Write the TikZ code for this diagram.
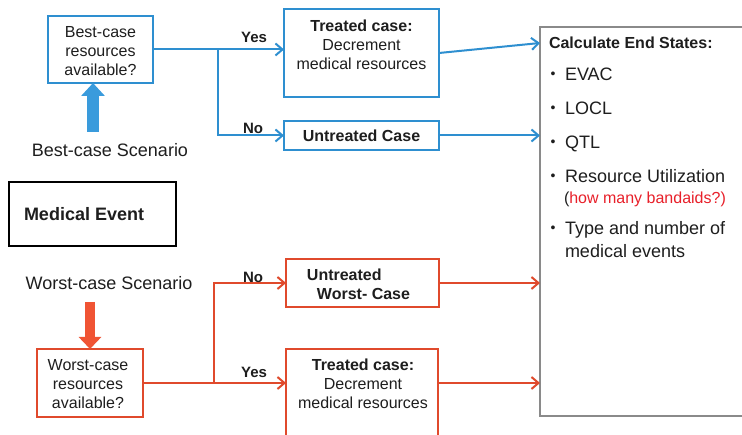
\documentclass[tikz,border=0pt]{standalone}
\usepackage{fontspec}
\setmainfont{Liberation Sans}
\usetikzlibrary{arrows.meta}
\definecolor{bl}{HTML}{2E8FD0}
\definecolor{blf}{HTML}{3A9BDC}
\definecolor{rd}{HTML}{E04A2C}
\definecolor{rdf}{HTML}{F05434}
\definecolor{gr}{HTML}{8A8A8A}
\definecolor{tx}{HTML}{1E1E1E}
\definecolor{redtx}{HTML}{E8202A}
\begin{document}
\begin{tikzpicture}[x=1pt,y=-1pt,
  every node/.style={font=\fontsize{16}{19}\selectfont, text=tx, inner sep=0pt, outer sep=0pt},
  bbox/.style={draw=bl, line width=2.2pt},
  rbox/.style={draw=rd, line width=2.2pt},
  bline/.style={draw=bl, line width=2pt},
  rline/.style={draw=rd, line width=2pt},
  bcon/.style={bline, -{Straight Barb[length=7pt,width=12pt]}},
  rcon/.style={rline, -{Straight Barb[length=7pt,width=12pt]}},
  big/.style={font=\fontsize{18}{21}\selectfont},
  lbl/.style={font=\bfseries\fontsize{15}{18}\selectfont},
  bul/.style={font=\fontsize{14}{16}\selectfont}
]
\useasboundingbox (0,0) rectangle (742,435);
\fill[white] (0,0) rectangle (742,435);

% ---- end states box
\node[draw=gr, line width=1.6pt, minimum width=220pt, minimum height=389pt, anchor=north west] (endbox) at (540,27) {};
\node[font=\bfseries\fontsize{16}{19}\selectfont, anchor=base west] (calc) at (549,49) {Calculate End States:};
\node[bul] (b1) at (553,75) {•};
\node[big, anchor=base west] (evac) at (565,80.5) {EVAC};
\node[bul] (b2) at (553,109) {•};
\node[big, anchor=base west] (locl) at (565,114.5) {LOCL};
\node[bul] (b3) at (553,143) {•};
\node[big, anchor=base west] (qtl) at (565,148.5) {QTL};
\node[bul] (b4) at (553,177) {•};
\node[big, anchor=base west] (resu) at (565,182.5) {Resource Utilization};
\node[anchor=base west] (band) at (564,203.5) {(\textcolor{redtx}{how many bandaids?)}};
\node[bul] (b5) at (553,229) {•};
\node[big, anchor=base west] (type) at (565,234.5) {Type and number of};
\node[big, anchor=base west] (mev) at (565,257.5) {medical events};

% ---- best case
\node[bbox, minimum width=105pt, minimum height=67pt] (best) at (100.5,49.5) {};
\node[align=center] (bestt) at (100.5,51) {Best-case\\resources\\available?};
\node[big] (bsc) at (110,150) {Best-case Scenario};
\coordinate (bas) at (93,132);
\draw[blf, line width=12pt, -{Triangle[length=13pt,width=23pt]}] (bas) -- (bas |- best.south);

\node[bbox, minimum width=155pt, minimum height=88pt, anchor=north west] (treatB) at (284,9) {};
\node[align=center] (treatBt) at (361.5,44.5) {\textbf{Treated case:}\\Decrement\\medical resources};
\node[bbox, minimum width=155pt, minimum height=29pt] (untrB) at (361.5,135.5) {\textbf{Untreated Case}};

\coordinate (bj) at (218,49.5);
\draw[bline] (best.east) -- (bj);
\draw[bcon] (bj) -- (bj -| treatB.west);
\draw[bcon] (bj) |- (untrB.west);
\node[lbl, text=tx] (yesB) at (254,37) {Yes};
\node[lbl, text=tx] (noB) at (253,128) {No};

\coordinate (eb1) at (540,43);
\draw[bcon] (treatB.east) -- (eb1);
\draw[bcon] (untrB.east) -- (untrB.east -| endbox.west);

% ---- medical event
\node[draw=black, line width=2.2pt, minimum width=167pt, minimum height=64pt] (med) at (92.5,214) {};
\node[font=\bfseries\fontsize{18}{21}\selectfont, anchor=west] (medt) at (24,214) {Medical Event};

% ---- worst case
\node[big] (wsc) at (109,283) {Worst-case Scenario};
\node[rbox, minimum width=106pt, minimum height=68pt] (worst) at (90,383) {};
\node[align=center] (worstt) at (88,384) {Worst-case\\resources\\available?};
\coordinate (was) at (90,302);
\draw[rdf, line width=10pt, -{Triangle[length=12pt,width=22pt]}] (was) -- (was |- worst.north);

\node[rbox, minimum width=153pt, minimum height=48pt] (untrW) at (362.5,283) {};
\node[align=left, font=\bfseries\fontsize{16}{19}\selectfont] (untrWt) at (358.5,284.5) {Untreated\\\hspace*{10pt}Worst- Case};
\node[rbox, minimum width=152pt, minimum height=100pt, anchor=north west] (treatW) at (286,349) {};
\node[align=center] (treatWt) at (363,384) {\textbf{Treated case:}\\Decrement\\medical resources};

\coordinate (wj) at (214,383);
\draw[rline] (worst.east) -- (wj);
\draw[rcon] (wj) -- (wj -| treatW.west);
\draw[rcon] (wj) |- (untrW.west);
\node[lbl] (noW) at (253,277) {No};
\node[lbl] (yesW) at (254,372) {Yes};

\draw[rcon] (untrW.east) -- (untrW.east -| endbox.west);
\draw[rcon] (treatW.east |- wj) -- (wj -| endbox.west);
\end{tikzpicture}
\end{document}
